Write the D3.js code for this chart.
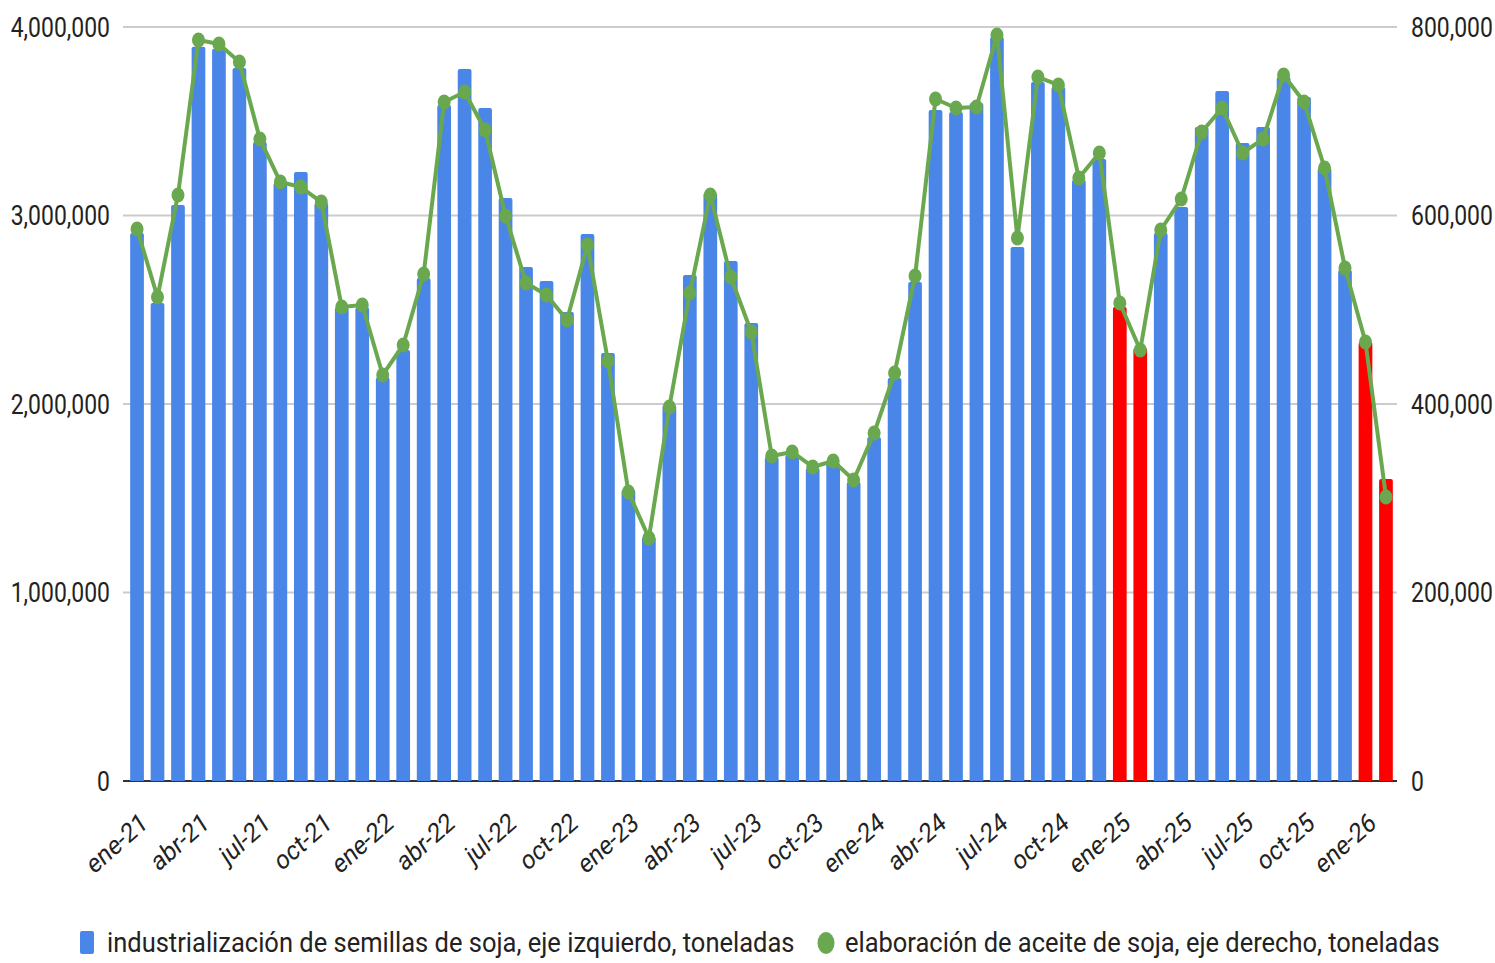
<!DOCTYPE html>
<html>
<head>
<meta charset="utf-8">
<script src="https://cdn.jsdelivr.net/npm/d3@7"></script>
<style>
  body { margin: 0; background: #fff; }
  svg { display: block; font-family: Roboto, "Noto Sans", sans-serif; }
</style>
</head>
<body>
<div id="chart"></div>
<script>
// Months, ene-21 .. feb-26
const months = [
  "ene-21","feb-21","mar-21","abr-21","may-21","jun-21","jul-21","ago-21","sep-21","oct-21","nov-21","dic-21",
  "ene-22","feb-22","mar-22","abr-22","may-22","jun-22","jul-22","ago-22","sep-22","oct-22","nov-22","dic-22",
  "ene-23","feb-23","mar-23","abr-23","may-23","jun-23","jul-23","ago-23","sep-23","oct-23","nov-23","dic-23",
  "ene-24","feb-24","mar-24","abr-24","may-24","jun-24","jul-24","ago-24","sep-24","oct-24","nov-24","dic-24",
  "ene-25","feb-25","mar-25","abr-25","may-25","jun-25","jul-25","ago-25","sep-25","oct-25","nov-25","dic-25",
  "ene-26","feb-26"
];

// industrialización de semillas de soja (t), left axis
const semillas = [
  2907000, 2536000, 3056000, 3895000, 3885000, 3783000, 3390000, 3172000, 3231000, 3066000, 2512000, 2512000,
  2140000, 2286000, 2668000, 3586000, 3777000, 3570000, 3093000, 2727000, 2653000, 2488000, 2902000, 2271000,
  1545000, 1294000, 1995000, 2684000, 3119000, 2759000, 2430000, 1719000, 1729000, 1660000, 1687000, 1586000,
  1825000, 2138000, 2647000, 3560000, 3549000, 3597000, 3947000, 2833000, 3708000, 3682000, 3188000, 3300000,
  2515000, 2297000, 2907000, 3045000, 3469000, 3660000, 3385000, 3469000, 3735000, 3629000, 3252000, 2711000,
  2329000, 1602000
];

// elaboración de aceite de soja (t), right axis
const aceite = [
  585700, 513500, 621800, 786200, 782000, 762900, 681200, 635500, 630200, 614300, 502900, 505000,
  430800, 462600, 537900, 720400, 731000, 690700, 599500, 528400, 515600, 489100, 568700, 445600,
  306600, 257800, 396800, 517800, 621800, 534700, 476400, 344800, 349100, 333200, 339500, 319400,
  369200, 432900, 535800, 723600, 714100, 715100, 791500, 576100, 746900, 738500, 639800, 666300,
  507200, 457300, 584600, 617500, 688600, 714100, 666300, 681200, 749100, 720400, 650400, 544300,
  465800, 301300
];

// bars shown in red (ene/feb of the last two years)
const highlighted = ["ene-25", "feb-25", "ene-26", "feb-26"];

const leftTicks = [0, 1000000, 2000000, 3000000, 4000000];
const rightTicks = [0, 200000, 400000, 600000, 800000];
const xTickLabels = months.filter((m) => /^(ene|abr|jul|oct)/.test(m));

const legendLabels = [
  "industrialización de semillas de soja, eje izquierdo, toneladas",
  "elaboración de aceite de soja, eje derecho, toneladas"
];

const colors = { bar: "#4a86e8", highlight: "#ff0000", line: "#6aa84f", grid: "#cccccc", text: "#222222" };

const width = 1495;
const height = 963;
const plot = { left: 123, right: 1397, top: 27, bottom: 781 };
const squeeze = 0.85; // text in the reference is horizontally condensed

const svg = d3.select("#chart").append("svg").attr("width", width).attr("height", height);

// Scales
const x = d3.scaleBand()
  .domain(months)
  .range([126.8, 1396.2])
  .paddingInner(0.33)
  .paddingOuter(0.165);

const yLeft = d3.scaleLinear().domain([0, 4000000]).range([plot.bottom, plot.top]);
const yRight = d3.scaleLinear().domain([0, 800000]).range([plot.bottom, plot.top]);

const fmt = d3.format(",");

// Gridlines
svg.append("g")
  .selectAll("line")
  .data(leftTicks.filter((d) => d > 0))
  .join("line")
  .attr("x1", plot.left)
  .attr("x2", plot.right)
  .attr("y1", (d) => yLeft(d))
  .attr("y2", (d) => yLeft(d))
  .attr("stroke", colors.grid)
  .attr("stroke-width", 2);

// Baseline
svg.append("line")
  .attr("x1", plot.left)
  .attr("x2", plot.right)
  .attr("y1", yLeft(0))
  .attr("y2", yLeft(0))
  .attr("stroke", "#333")
  .attr("stroke-width", 2);

// Left tick labels
svg.append("g")
  .selectAll("text")
  .data(leftTicks)
  .join("text")
  .attr("transform", (d) => `translate(110,${yLeft(d)}) scale(${squeeze},1)`)
  .attr("text-anchor", "end")
  .attr("dy", "0.36em")
  .attr("font-size", 27)
  .attr("fill", colors.text)
  .text((d) => fmt(d));

// Right tick labels
svg.append("g")
  .selectAll("text")
  .data(rightTicks)
  .join("text")
  .attr("transform", (d) => `translate(1411,${yRight(d)}) scale(${squeeze},1)`)
  .attr("text-anchor", "start")
  .attr("dy", "0.36em")
  .attr("font-size", 27)
  .attr("fill", colors.text)
  .text((d) => fmt(d));

// Bars
svg.append("g")
  .selectAll("path")
  .data(months.map((m, i) => ({ month: m, value: semillas[i] })))
  .join("path")
  .attr("d", (d) => {
    const x0 = x(d.month);
    const w = x.bandwidth();
    const y0 = yLeft(d.value);
    const y1 = yLeft(0);
    const r = 2;
    return `M${x0},${y1}V${y0 + r}Q${x0},${y0} ${x0 + r},${y0}H${x0 + w - r}Q${x0 + w},${y0} ${x0 + w},${y0 + r}V${y1}Z`;
  })
  .attr("fill", (d) => (highlighted.includes(d.month) ? colors.highlight : colors.bar));

// Line
const cx = (m) => x(m) + x.bandwidth() / 2;
const linePts = months.map((m, i) => ({ month: m, value: aceite[i] }));

svg.append("path")
  .datum(linePts)
  .attr("fill", "none")
  .attr("stroke", colors.line)
  .attr("stroke-width", 4)
  .attr("stroke-linejoin", "round")
  .attr("d", d3.line().x((d) => cx(d.month)).y((d) => yRight(d.value)));

svg.append("g")
  .selectAll("ellipse")
  .data(linePts)
  .join("ellipse")
  .attr("cx", (d) => cx(d.month))
  .attr("cy", (d) => yRight(d.value))
  .attr("rx", 6.5)
  .attr("ry", 7.5)
  .attr("fill", colors.line);

// X tick labels (rotated)
svg.append("g")
  .selectAll("text")
  .data(xTickLabels)
  .join("text")
  .attr("transform", (d) => `translate(${cx(d) + 12},826) scale(${squeeze},1) rotate(-37)`)
  .attr("text-anchor", "end")
  .attr("font-size", 27)
  .attr("fill", colors.text)
  .text((d) => d);

// Legend: text squeezed to the widths seen in the reference
function legendText(label, x0, targetWidth) {
  const t = svg.append("text")
    .attr("font-size", 28)
    .attr("fill", colors.text)
    .text(label);
  const natural = t.node().getComputedTextLength();
  t.attr("transform", `translate(${x0},952) scale(${targetWidth / natural},1)`);
}

svg.append("rect")
  .attr("x", 80).attr("y", 931).attr("width", 14).attr("height", 23).attr("rx", 2)
  .attr("fill", colors.bar);
legendText(legendLabels[0], 107, 688);

svg.append("ellipse")
  .attr("cx", 826).attr("cy", 943).attr("rx", 8.5).attr("ry", 11)
  .attr("fill", colors.line);
legendText(legendLabels[1], 845, 595);
</script>
</body>
</html>
